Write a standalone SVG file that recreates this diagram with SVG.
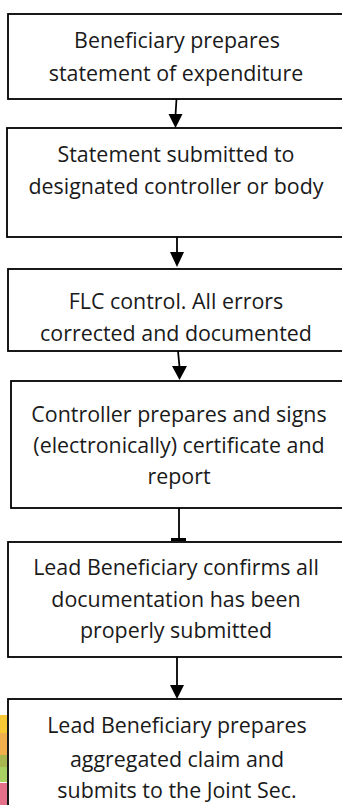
<svg xmlns="http://www.w3.org/2000/svg" width="342" height="805" viewBox="0 0 342 805">
<style>
.box{fill:#fff;stroke:#000;stroke-width:1.8}
.t{font-family:"Open Sans","Noto Sans",sans-serif;font-size:21.4px;fill:#1a1a1a;text-anchor:middle}
.ln{stroke:#000;stroke-width:1.8;fill:none}
.hd{fill:#000}
</style>
<rect width="342" height="805" fill="#fff"/>
<g id="strip">
<rect x="0" y="715" width="7" height="18" fill="#F8C935"/>
<rect x="0" y="733" width="7" height="22" fill="#F1AE4C"/>
<rect x="0" y="755" width="7" height="12" fill="#A9B650"/>
<rect x="0" y="767" width="7" height="15" fill="#A9D062"/>
<rect x="0" y="783" width="7" height="22" fill="#E5708A"/>
</g>
<g id="n1"><rect class="box" x="8" y="14" width="400" height="85"/>
<text class="t" x="177" y="48">Beneficiary prepares</text>
<text class="t" x="176" y="81">statement of expenditure</text></g>
<g id="n2"><rect class="box" x="7" y="128" width="400" height="109"/>
<text class="t" x="176" y="162">Statement submitted to</text>
<text class="t" x="176" y="194">designated controller or body</text></g>
<g id="n3"><rect class="box" x="8" y="269" width="400" height="82"/>
<text class="t" x="176" y="309">FLC control. All errors</text>
<text class="t" x="176" y="341">corrected and documented</text></g>
<g id="n4"><rect class="box" x="11" y="381" width="400" height="127"/>
<text class="t" x="179" y="422">Controller prepares and signs</text>
<text class="t" x="179" y="453">(electronically) certificate and</text>
<text class="t" x="179" y="484">report</text></g>
<g id="n5"><rect class="box" x="8" y="542" width="400" height="115"/>
<text class="t" x="176" y="575">Lead Beneficiary confirms all</text>
<text class="t" x="176" y="607">documentation has been</text>
<text class="t" x="176" y="638">properly submitted</text></g>
<g id="n6"><rect class="box" x="8" y="699" width="400" height="130"/>
<text class="t" x="177" y="733">Lead Beneficiary prepares</text>
<text class="t" x="177" y="767">aggregated claim and</text>
<text class="t" x="177" y="798">submits to the Joint Sec.</text></g>
<g id="connectors">
<path class="ln" d="M176.5 99 L175.5 115"/>
<polygon class="hd" points="168.5,114 182.5,114 175.5,128"/>
<path class="ln" d="M177 237 L177 253"/>
<polygon class="hd" points="170,252 184,252 177,267"/>
<path class="ln" d="M178 351 L179.5 367"/>
<polygon class="hd" points="172,366 187,366 179.5,380"/>
<path class="ln" d="M179 508 L179 539"/>
<rect class="hd" x="171" y="538" width="15" height="3"/>
<path class="ln" d="M177 657 L177 686"/>
<polygon class="hd" points="170,685 184,685 177,699"/>
</g>
</svg>
